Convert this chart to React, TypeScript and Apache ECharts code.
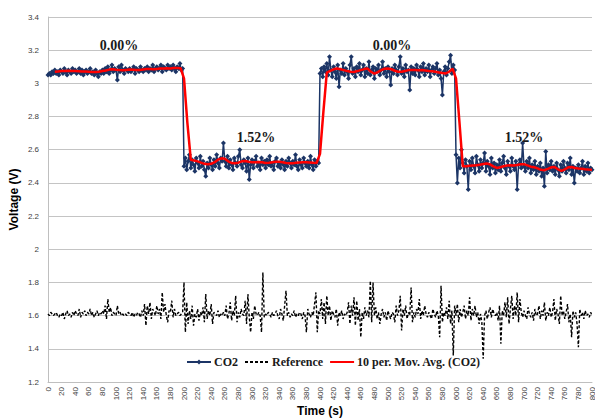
import React, { useEffect, useRef } from "react";
import * as echarts from "echarts";

// Sampling of the recorded series
const SAMPLE_START = 0;
const SAMPLE_STEP = 2; // s
const MA_START = 10;
const MA_STEP = 5; // s

const xTicks = { min: 0, max: 800, interval: 20 };
const yTicks = { min: 1.2, max: 3.4, interval: 0.2 };

// CO2 sensor voltage (V), 0–198 s, 0.00 %
const co2Seg1 = [
  3.05, 3.06, 3.05, 3.07, 3.06, 3.08, 3.06, 3.07, 3.05, 3.08,
  3.07, 3.06, 3.09, 3.07, 3.05, 3.08, 3.07, 3.06, 3.09, 3.07,
  3.08, 3.06, 3.07, 3.09, 3.06, 3.08, 3.05, 3.07, 3.08, 3.06,
  3.07, 3.09, 3.06, 3.07, 3.05, 3.08, 3.06, 3.04, 3.07, 3.06,
  3.08, 3.06, 3.09, 3.07, 3.10, 3.06, 3.08, 3.11, 3.07, 3.09,
  3.08, 3.02, 3.10, 3.07, 3.11, 3.08, 3.06, 3.09, 3.08, 3.07,
  3.09, 3.07, 3.08, 3.10, 3.06, 3.09, 3.08, 3.07, 3.10, 3.08,
  3.07, 3.09, 3.08, 3.10, 3.07, 3.09, 3.08, 3.11, 3.07, 3.09,
  3.10, 3.08, 3.09, 3.11, 3.07, 3.10, 3.09, 3.08, 3.11, 3.09,
  3.10, 3.08, 3.11, 3.09, 3.07, 3.10, 3.09, 3.12, 3.08, 3.09,
];
// 200–398 s, 1.52 %
const co2Seg2 = [
  2.50, 2.55, 2.48, 2.53, 2.57, 2.49, 2.54, 2.51, 2.47, 2.55,
  2.52, 2.49, 2.56, 2.50, 2.53, 2.48, 2.44, 2.52, 2.49, 2.55,
  2.51, 2.48, 2.54, 2.50, 2.57, 2.52, 2.49, 2.55, 2.53, 2.64,
  2.53, 2.50, 2.56, 2.49, 2.54, 2.51, 2.48, 2.55, 2.52, 2.50,
  2.56, 2.60, 2.51, 2.49, 2.54, 2.52, 2.47, 2.55, 2.42, 2.51,
  2.54, 2.49, 2.53, 2.56, 2.50, 2.52, 2.48, 2.55, 2.51, 2.53,
  2.49, 2.54, 2.51, 2.56, 2.50, 2.52, 2.48, 2.53, 2.55, 2.50,
  2.52, 2.49, 2.54, 2.51, 2.48, 2.53, 2.50, 2.55, 2.52, 2.49,
  2.53, 2.51, 2.57, 2.50, 2.48, 2.54, 2.51, 2.49, 2.55, 2.52,
  2.50, 2.53, 2.49, 2.56, 2.51, 2.48, 2.54, 2.50, 2.53, 2.52,
];
// 400–598 s, 0.00 %
const co2Seg3 = [
  3.06, 3.09, 3.04, 3.10, 3.07, 3.12, 3.05, 3.16, 3.08, 3.04,
  3.10, 3.07, 3.03, 3.11, 2.98, 3.08, 3.06, 3.12, 3.05, 3.09,
  3.07, 3.03, 3.11, 3.16, 3.06, 3.09, 3.04, 3.10, 3.07, 3.12,
  3.05, 3.08, 3.11, 3.04, 3.09, 3.06, 3.13, 3.05, 3.08, 3.10,
  3.03, 3.09, 3.07, 3.11, 3.05, 3.08, 3.13, 3.06, 3.09, 3.04,
  3.10, 3.07, 2.99, 3.09, 3.06, 3.11, 3.08, 3.05, 3.10, 3.16,
  3.06, 3.09, 3.04, 3.11, 3.07, 3.08, 2.96, 3.10, 3.06, 3.09,
  3.05, 3.11, 3.08, 3.04, 3.10, 3.07, 3.12, 3.05, 3.09, 3.07,
  3.11, 3.04, 3.08, 3.10, 3.06, 3.09, 3.12, 3.05, 3.08, 3.03,
  2.93, 3.07, 3.10, 3.05, 3.09, 3.13, 3.17, 3.06, 3.11, 3.08,
];
// 600–800 s, 1.52 %
const co2Seg4 = [
  2.57, 2.40, 2.55, 2.49, 2.60, 2.52, 2.46, 2.54, 2.50, 2.36,
  2.53, 2.48, 2.55, 2.50, 2.46, 2.56, 2.51, 2.47, 2.54, 2.49,
  2.52, 2.58, 2.47, 2.53, 2.50, 2.45, 2.55, 2.49, 2.52, 2.46,
  2.51, 2.48, 2.54, 2.47, 2.52, 2.56, 2.49, 2.45, 2.53, 2.50,
  2.47, 2.55, 2.50, 2.48, 2.53, 2.36, 2.51, 2.54, 2.49, 2.64,
  2.50, 2.47, 2.53, 2.49, 2.55, 2.46, 2.51, 2.48, 2.53, 2.45,
  2.50, 2.47, 2.52, 2.44, 2.49, 2.38, 2.59, 2.46, 2.51, 2.48,
  2.53, 2.47, 2.50, 2.45, 2.52, 2.48, 2.44, 2.51, 2.47, 2.53,
  2.49, 2.46, 2.52, 2.48, 2.55, 2.45, 2.50, 2.40, 2.49, 2.47,
  2.51, 2.46, 2.49, 2.53, 2.45, 2.50, 2.47, 2.52, 2.46, 2.49,
  2.48,
];

// Reference electrode voltage (V), 0–800 s
const refSeg1 = [
  1.61, 1.60, 1.62, 1.61, 1.60, 1.61, 1.62, 1.60, 1.59, 1.61,
  1.60, 1.62, 1.58, 1.61, 1.63, 1.60, 1.61, 1.59, 1.62, 1.60,
  1.63, 1.61, 1.60, 1.64, 1.59, 1.62, 1.61, 1.63, 1.60, 1.62,
  1.61, 1.64, 1.60, 1.62, 1.59, 1.61, 1.63, 1.60, 1.62, 1.61,
  1.63, 1.61, 1.66, 1.58, 1.70, 1.62, 1.65, 1.60, 1.62, 1.61,
  1.60, 1.66, 1.61, 1.62, 1.60, 1.61, 1.60, 1.61, 1.60, 1.62,
  1.61, 1.60, 1.62, 1.59, 1.61, 1.60, 1.62, 1.61, 1.59, 1.63,
  1.60, 1.67, 1.54, 1.66, 1.61, 1.68, 1.58, 1.64, 1.62, 1.60,
  1.66, 1.61, 1.64, 1.58, 1.74, 1.62, 1.67, 1.60, 1.56, 1.63,
  1.62, 1.69, 1.59, 1.64, 1.60, 1.61, 1.62, 1.60, 1.61, 1.62,
];
const refSeg2 = [
  1.80, 1.50, 1.68, 1.55, 1.63, 1.58, 1.66, 1.54, 1.61, 1.59,
  1.64, 1.57, 1.62, 1.60, 1.65, 1.56, 1.73, 1.58, 1.63, 1.60,
  1.67, 1.55, 1.62, 1.61, 1.60, 1.63, 1.59, 1.61, 1.60, 1.62,
  1.60, 1.66, 1.58, 1.61, 1.68, 1.57, 1.63, 1.60, 1.72, 1.56,
  1.62, 1.59, 1.64, 1.61, 1.60, 1.69, 1.55, 1.73, 1.59, 1.50,
  1.62, 1.58, 1.66, 1.61, 1.60, 1.62, 1.60, 1.50, 1.86, 1.59,
  1.61, 1.60, 1.62, 1.61, 1.59, 1.62, 1.60, 1.61, 1.63, 1.60,
  1.58, 1.64, 1.61, 1.57, 1.66, 1.75, 1.60, 1.62, 1.59, 1.61,
  1.60, 1.63, 1.59, 1.61, 1.60, 1.62, 1.61, 1.58, 1.62, 1.60,
  1.50, 1.64, 1.61, 1.59, 1.62, 1.60, 1.67, 1.74, 1.50, 1.63,
];
const refSeg3 = [
  1.61, 1.70, 1.58, 1.68, 1.55, 1.72, 1.60, 1.66, 1.57, 1.63,
  1.61, 1.59, 1.64, 1.54, 1.62, 1.60, 1.63, 1.58, 1.61, 1.60,
  1.62, 1.68, 1.55, 1.66, 1.60, 1.71, 1.54, 1.69, 1.57, 1.64,
  1.47, 1.62, 1.58, 1.65, 1.60, 1.63, 1.59, 1.81, 1.56, 1.80,
  1.60, 1.65, 1.58, 1.62, 1.55, 1.61, 1.64, 1.59, 1.62, 1.57,
  1.63, 1.60, 1.58, 1.62, 1.61, 1.56, 1.66, 1.60, 1.63, 1.72,
  1.51, 1.64, 1.60, 1.66, 1.58, 1.62, 1.60, 1.77, 1.56, 1.62,
  1.59, 1.64, 1.61, 1.70, 1.58, 1.63, 1.60, 1.66, 1.61, 1.59,
  1.62, 1.60, 1.58, 1.64, 1.61, 1.59, 1.63, 1.60, 1.47, 1.78,
  1.56, 1.62, 1.60, 1.65, 1.58, 1.69, 1.55, 1.63, 1.36, 1.66,
];
const refSeg4 = [
  1.60, 1.67, 1.56, 1.64, 1.59, 1.62, 1.66, 1.58, 1.63, 1.60,
  1.71, 1.57, 1.64, 1.60, 1.66, 1.59, 1.62, 1.55, 1.61, 1.56,
  1.34, 1.60, 1.63, 1.58, 1.62, 1.65, 1.59, 1.64, 1.61, 1.60,
  1.62, 1.57, 1.66, 1.43, 1.63, 1.60, 1.68, 1.59, 1.71, 1.55,
  1.64, 1.72, 1.58, 1.66, 1.60, 1.74, 1.56, 1.70, 1.62, 1.59,
  1.63, 1.60, 1.58, 1.65, 1.61, 1.59, 1.62, 1.57, 1.64, 1.60,
  1.61, 1.66, 1.58, 1.63, 1.60, 1.68, 1.57, 1.62, 1.60, 1.65,
  1.59, 1.62, 1.70, 1.57, 1.64, 1.61, 1.55, 1.72, 1.60, 1.63,
  1.58, 1.62, 1.67, 1.56, 1.61, 1.47, 1.63, 1.59, 1.62, 1.55,
  1.41, 1.64, 1.60, 1.62, 1.58, 1.63, 1.60, 1.61, 1.59, 1.62,
  1.60,
];

// 10 per. moving average of CO2 as drawn (every 5 s from 10 s)
const maSeg1 = [
  3.070, 3.072, 3.074, 3.075, 3.076, 3.075, 3.074, 3.073, 3.072, 3.071,
  3.070, 3.069, 3.068, 3.070, 3.074, 3.078, 3.083, 3.085, 3.082, 3.080,
  3.079, 3.081, 3.083, 3.082, 3.080, 3.081, 3.084, 3.086, 3.087, 3.085,
  3.087, 3.089, 3.090, 3.091, 3.090, 3.092, 3.093, 3.091,
];
const maSeg2 = [
  3.030, 2.760, 2.540, 2.535, 2.530, 2.522, 2.515, 2.512, 2.515, 2.525,
  2.540, 2.548, 2.545, 2.530, 2.520, 2.518, 2.522, 2.530, 2.532, 2.528,
  2.525, 2.524, 2.526, 2.524, 2.520, 2.521, 2.524, 2.527, 2.527, 2.524,
  2.520, 2.518, 2.519, 2.521, 2.523, 2.525, 2.525, 2.523, 2.521, 2.520,
];
const maSeg3 = [
  2.575, 2.830, 3.065, 3.075, 3.085, 3.089, 3.085, 3.080, 3.074, 3.070,
  3.069, 3.074, 3.080, 3.086, 3.089, 3.070, 3.058, 3.068, 3.080, 3.088,
  3.089, 3.085, 3.076, 3.070, 3.070, 3.075, 3.080, 3.081, 3.080, 3.079,
  3.080, 3.078, 3.075, 3.073, 3.070, 3.066, 3.062, 3.060, 3.070, 3.088,
];
const maSeg4 = [
  3.030, 2.770, 2.500, 2.500, 2.503, 2.505, 2.507, 2.510, 2.514, 2.517,
  2.512, 2.500, 2.490, 2.494, 2.500, 2.505, 2.507, 2.505, 2.508, 2.512,
  2.513, 2.506, 2.498, 2.495, 2.488, 2.479, 2.477, 2.485, 2.494, 2.496,
  2.482, 2.473, 2.482, 2.494, 2.496, 2.490, 2.487, 2.486, 2.483, 2.481,
  2.480,
];

const seriesNames = ["CO2", "Reference", "10 per. Mov. Avg. (CO2)"];
const annotations = ["0.00%", "1.52%", "0.00%", "1.52%"];

const co2Values = [...co2Seg1, ...co2Seg2, ...co2Seg3, ...co2Seg4];
const refValues = [...refSeg1, ...refSeg2, ...refSeg3, ...refSeg4];
const maValues = [...maSeg1, ...maSeg2, ...maSeg3, ...maSeg4];

export default function App() {
  const ref = useRef<HTMLDivElement>(null);
  useEffect(() => {
    document.body.style.margin = "0";
    const chart = echarts.init(ref.current!, null, { renderer: "svg" });
    const co2 = co2Values.map((v, i) => [SAMPLE_START + i * SAMPLE_STEP, v]);
    const refData = refValues.map((v, i) => [SAMPLE_START + i * SAMPLE_STEP, v]);
    const ma = maValues.map((v, i) => [MA_START + i * MA_STEP, v]);
    const annoPos = [
      { x: 119, y: 45 },
      { x: 256, y: 137 },
      { x: 392, y: 45 },
      { x: 524, y: 137 },
    ];
    const hideSymbol = { opacity: 0, borderWidth: 0 };
    chart.setOption({
      animation: false,
      backgroundColor: "#ffffff",
      grid: { left: 48, right: 3, top: 17, bottom: 36, outerBoundsMode: "none", containLabel: false },
      xAxis: {
        type: "value",
        min: xTicks.min,
        max: xTicks.max,
        interval: xTicks.interval,
        name: "Time (s)",
        nameLocation: "middle",
        nameGap: 23,
        nameMoveOverlap: false,
        nameTextStyle: { fontFamily: "Liberation Sans", fontWeight: "bold", fontSize: 12, color: "#000" },
        axisLine: { show: true, lineStyle: { color: "#bfbfbf", width: 1 } },
        axisTick: { show: false },
        splitLine: { show: false },
        axisLabel: {
          rotate: 90,
          margin: 5,
          fontFamily: "Liberation Sans",
          fontSize: 8,
          color: "#404040",
        },
      },
      yAxis: {
        type: "value",
        min: yTicks.min,
        max: yTicks.max,
        interval: yTicks.interval,
        name: "Voltage (V)",
        nameLocation: "middle",
        nameGap: 28,
        nameMoveOverlap: false,
        nameTextStyle: { fontFamily: "Liberation Sans", fontWeight: "bold", fontSize: 12, color: "#000" },
        axisLine: { show: true, lineStyle: { color: "#bfbfbf", width: 1 } },
        axisTick: { show: false },
        splitLine: { show: true, lineStyle: { color: "#c4c4c4", width: 1 } },
        axisLabel: {
          margin: 9,
          fontFamily: "Liberation Sans",
          fontSize: 8,
          color: "#404040",
          formatter: (v: number) => String(Math.round(v * 10) / 10),
        },
      },
      legend: {
        data: [
          { name: seriesNames[0] },
          { name: seriesNames[1], itemStyle: hideSymbol },
          { name: seriesNames[2], itemStyle: hideSymbol },
        ],
        left: 181,
        top: 350,
        z: 1,
        backgroundColor: "#ffffff",
        padding: [6, 5, 6, 5],
        itemGap: 6,
        itemWidth: 24,
        itemHeight: 6,
        textStyle: { fontFamily: "Liberation Serif", fontWeight: "bold", fontSize: 12, color: "#1a1a1a", padding: [0, 0, 0, -2] },
      },
      graphic: annotations.map((text, i) => ({
        type: "text",
        x: annoPos[i].x,
        y: annoPos[i].y,
        z: 10,
        style: {
          text,
          fontFamily: "Liberation Serif",
          fontWeight: "bold",
          fontSize: 14,
          fill: "#1a1a1a",
          textAlign: "center",
          textVerticalAlign: "middle",
        },
      })),
      series: [
        {
          name: seriesNames[0],
          type: "line",
          data: co2,
          symbol: "diamond",
          symbolSize: 5,
          showAllSymbol: true,
          itemStyle: { color: "#1c3566" },
          lineStyle: { color: "#1c3566", width: 1.5 },
          z: 3,
        },
        {
          name: seriesNames[1],
          type: "line",
          data: refData,
          symbol: "none",
          itemStyle: { color: "#000000" },
          lineStyle: { color: "#000000", width: 1.4, type: [3, 2] },
          z: 2,
        },
        {
          name: seriesNames[2],
          type: "line",
          data: ma,
          symbol: "none",
          itemStyle: { color: "#ff0000" },
          lineStyle: { color: "#ff0000", width: 2.5 },
          z: 4,
        },
      ],
    });
    return () => chart.dispose();
  }, []);
  return <div ref={ref} style={{ width: 595, height: 418 }} />;
}
